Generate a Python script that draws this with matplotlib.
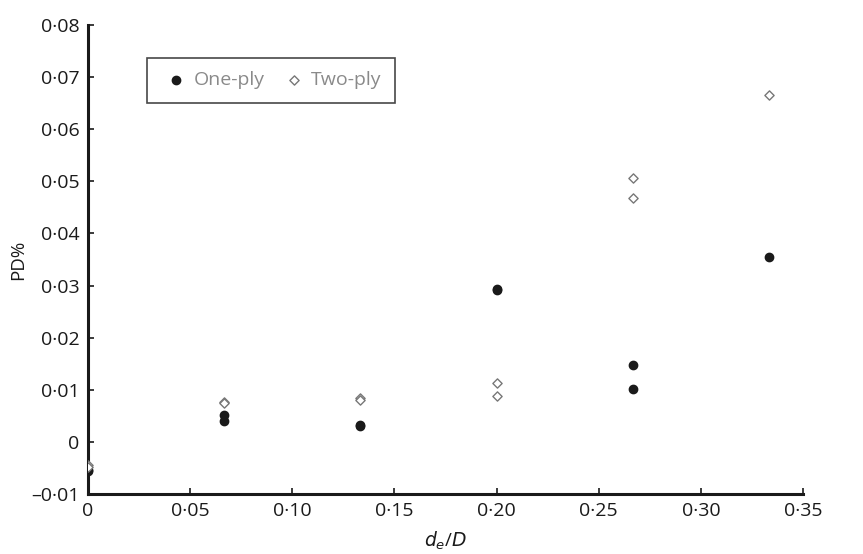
import matplotlib.pyplot as plt
from matplotlib.ticker import FixedLocator, FixedFormatter

plt.rcParams['font.family'] = ['Open Sans', 'DejaVu Sans']

# d_e/D values and PD% for each set of specimens
x_one = [0, 0, 0.0667, 0.0667, 0.1333, 0.1333, 0.2, 0.2, 0.2667, 0.2667, 0.3333]
pd_one = [-0.0053, -0.0056, 0.0051, 0.0040, 0.0033, 0.0031, 0.0294, 0.0291, 0.0148, 0.0102, 0.0355]

x_two = [0, 0, 0.0667, 0.0667, 0.1333, 0.1333, 0.2, 0.2, 0.2667, 0.2667, 0.3333]
pd_two = [-0.0045, -0.0049, 0.0077, 0.0075, 0.0085, 0.0080, 0.0113, 0.0088, 0.0507, 0.0468, 0.0666]

x_ticks = [0, 0.05, 0.10, 0.15, 0.20, 0.25, 0.30, 0.35]
x_labels = ['0', '0·05', '0·10', '0·15', '0·20', '0·25', '0·30', '0·35']
y_ticks = [-0.01, 0, 0.01, 0.02, 0.03, 0.04, 0.05, 0.06, 0.07, 0.08]
y_labels = ['–0·01', '0', '0·01', '0·02', '0·03', '0·04', '0·05', '0·06', '0·07', '0·08']

fig = plt.figure(figsize=(8.63, 5.54), dpi=100)
ax = fig.add_axes([0.102, 0.1083, 0.8285, 0.8466])

ax.scatter(x_one, pd_one, marker='o', s=36, color='#1a1a1a', zorder=3, label='One-ply')
ax.scatter(x_two, pd_two, marker='D', s=22, facecolor='white', edgecolor='#777777',
           linewidth=1.0, zorder=3, label='Two-ply')

ax.set_xlim(0, 0.35)
ax.set_ylim(-0.01, 0.08)
ax.xaxis.set_major_locator(FixedLocator(x_ticks))
ax.xaxis.set_major_formatter(FixedFormatter(x_labels))
ax.yaxis.set_major_locator(FixedLocator(y_ticks))
ax.yaxis.set_major_formatter(FixedFormatter(y_labels))

for side in ['top', 'right']:
    ax.spines[side].set_visible(False)
for side in ['left', 'bottom']:
    ax.spines[side].set_linewidth(2.2)
    ax.spines[side].set_color('#1a1a1a')
ax.tick_params(direction='in', length=4, width=1.2, labelsize=14, colors='#1a1a1a', pad=6)

ax.set_ylabel('PD%', fontsize=13.5, color='#1a1a1a', labelpad=3)
ax.set_xlabel(r'$d_e$/$D$', fontsize=13.5, color='#1a1a1a', labelpad=7)

leg = ax.legend(loc='upper left', bbox_to_anchor=(0.0825, 0.93), ncol=2, frameon=True,
                fancybox=False, edgecolor='#1a1a1a', fontsize=14, handletextpad=0.1,
                columnspacing=0.7, borderpad=0.7, handlelength=1.6, borderaxespad=0)
leg.get_frame().set_linewidth(1.2)
for t in leg.get_texts():
    t.set_color('#8a8a8a')

fig.savefig('out.png', dpi=100)
